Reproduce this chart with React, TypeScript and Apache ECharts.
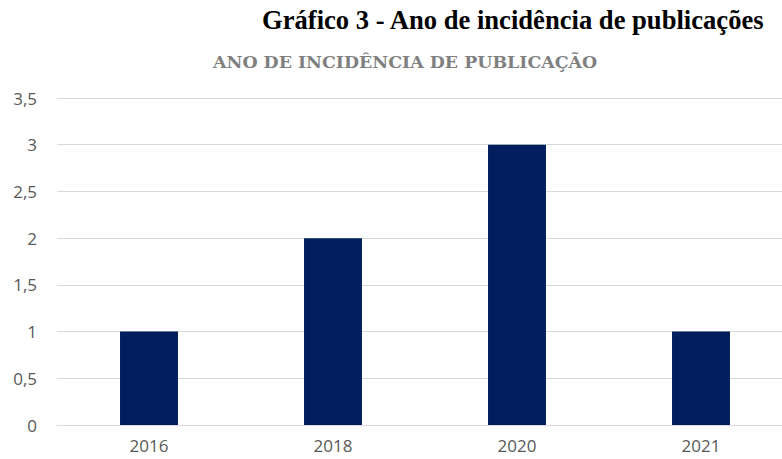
import React, { useEffect, useRef } from "react";
import * as echarts from "echarts";

const mainTitle = "Gráfico 3 - Ano de incidência de publicações";
const chartTitle = "ANO DE INCIDÊNCIA DE PUBLICAÇÃO";
const years = ["2016", "2018", "2020", "2021"];
const counts = [1, 2, 3, 1];

export default function App() {
  const ref = useRef<HTMLDivElement>(null);
  useEffect(() => {
    document.body.style.margin = "0";
    const chart = echarts.init(ref.current!, null, { renderer: "svg" });
    chart.setOption({
      animation: false,
      backgroundColor: "#ffffff",
      title: [
        {
          text: mainTitle,
          left: 262,
          top: 6,
          padding: 0,
          textStyle: { fontFamily: "Liberation Serif", fontWeight: "bold", fontSize: 26.6, color: "#000000" },
        },
        {
          text: chartTitle,
          left: 213,
          top: 53,
          padding: 0,
          textStyle: { fontFamily: "DejaVu Serif", fontWeight: "bold", fontSize: 17.4, color: "#7f7f7f" },
        },
      ],
      grid: { left: 57, top: 98, width: 736, height: 327, containLabel: false },
      xAxis: {
        type: "category",
        data: years,
        axisLine: { show: true, lineStyle: { color: "#d9d9d9", width: 1 } },
        axisTick: { show: false },
        axisLabel: { color: "#595959", fontSize: 17, fontFamily: "Open Sans", margin: 12 },
      },
      yAxis: {
        type: "value",
        min: 0,
        max: 3.5,
        interval: 0.5,
        axisLine: { show: false },
        axisTick: { show: false },
        splitLine: { lineStyle: { color: "#d9d9d9", width: 1 } },
        axisLabel: {
          color: "#595959",
          fontSize: 17,
          fontFamily: "Open Sans",
          margin: 20,
          formatter: (v: number) => String(v).replace(".", ","),
        },
      },
      series: [
        {
          type: "bar",
          data: counts,
          barWidth: "31.5%",
          itemStyle: { color: "#001f5c" },
        },
      ],
    });
    return () => chart.dispose();
  }, []);
  return (
    <div style={{ width: 782, height: 459, overflow: "hidden", position: "relative" }}>
      <div ref={ref} style={{ width: 810, height: 459 }} />
    </div>
  );
}
